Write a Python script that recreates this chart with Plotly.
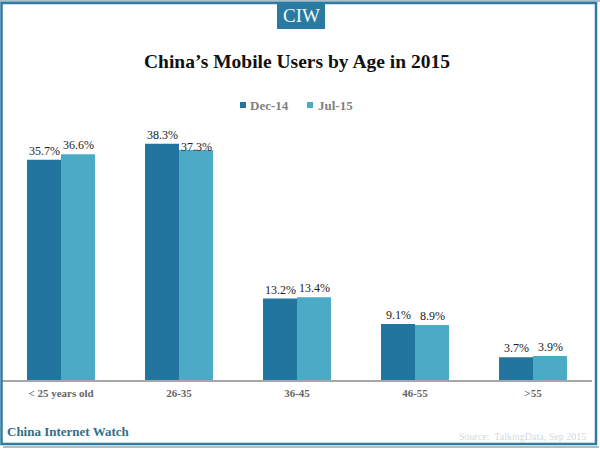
import plotly.graph_objects as go

categories = ["< 25 years old", "26-35", "36-45", "46-55", ">55"]
dec_14 = [35.7, 38.3, 13.2, 9.1, 3.7]
jul_15 = [36.6, 37.3, 13.4, 8.9, 3.9]
dec_labels = ["35.7%", "38.3%", "13.2%", "9.1%", "3.7%"]
jul_labels = ["36.6%", "37.3%", "13.4%", "8.9%", "3.9%"]
dec_color = "#22759E"
jul_color = "#4BABC6"

SERIF = "Liberation Serif"
W, H = 600, 450
L, R, T, B = 2, 592, 100, 380
def px(x): return (x - L) / (R - L)
def py(y): return (B - y) / (B - T)

fig = go.Figure()
for name, vals, col in [("Dec-14", dec_14, dec_color), ("Jul-15", jul_15, jul_color)]:
    fig.add_bar(name=name, x=categories, y=vals, marker_color=col, marker_line_width=0,
                showlegend=False, cliponaxis=False)

anns = []
for vals, labels, xs in [(dec_14, dec_labels, -17), (jul_15, jul_labels, 17)]:
    for c, v, t in zip(categories, vals, labels):
        anns.append(dict(text=t, x=c, y=v, xref="x", yref="y", xshift=xs,
                         yshift=-6 if t == "37.3%" else 0, showarrow=False, yanchor="bottom",
                         font=dict(family=SERIF, size=12, color="#222222")))

shapes = [
    dict(type="line", xref="paper", yref="paper", x0=px(0), x1=px(600), y0=py(1), y1=py(1),
         line=dict(color="#A9BFCC", width=2)),
    dict(type="rect", xref="paper", yref="paper", x0=px(1.5), x1=px(596), y0=py(3), y1=py(444),
         line=dict(color="#2F7CA0", width=2.5), fillcolor="rgba(0,0,0,0)"),
    dict(type="line", xref="paper", yref="paper", x0=px(3), x1=px(599), y0=py(447), y1=py(447),
         line=dict(color="#A9BFCC", width=2)),
    dict(type="rect", xref="paper", yref="paper", x0=px(277), x1=px(325), y0=py(2), y1=py(29),
         line=dict(width=0), fillcolor="#2A7BA1"),
    dict(type="rect", xref="paper", yref="paper", x0=px(240), x1=px(246), y0=py(102), y1=py(108),
         line=dict(width=0), fillcolor=dec_color),
    dict(type="rect", xref="paper", yref="paper", x0=px(307), x1=px(313), y0=py(102), y1=py(108),
         line=dict(width=0), fillcolor=jul_color),
]
page = [
    dict(text="CIW", x=px(301), y=py(16), font=dict(family=SERIF, size=19, color="#F2F8FA")),
    dict(text="<b>China’s Mobile Users by Age in 2015</b>", x=px(297), y=py(61),
         font=dict(family=SERIF, size=19.5, color="#111111")),
    dict(text="<b>Dec-14</b>", x=px(248), y=py(105), xanchor="left",
         font=dict(family=SERIF, size=13, color="#7F7F7F")),
    dict(text="<b>Jul-15</b>", x=px(316), y=py(105), xanchor="left",
         font=dict(family=SERIF, size=13, color="#7F7F7F")),
    dict(text="<b>China Internet Watch</b>", x=px(5), y=py(431), xanchor="left",
         font=dict(family=SERIF, size=13, color="#2F6F8C")),
    dict(text="Source:  TalkingData, Sep 2015", x=px(588), y=py(436), xanchor="right",
         font=dict(family=SERIF, size=10, color="#D3DAE2")),
]
for a in page:
    a.update(xref="paper", yref="paper", showarrow=False)
    a.setdefault("xanchor", "center")
    a["yanchor"] = "middle"
anns += page

fig.update_layout(
    width=W, height=H, barmode="group", bargap=0.424, bargroupgap=0,
    margin=dict(l=L, r=W - R, t=T, b=H - B, pad=0),
    paper_bgcolor="white", plot_bgcolor="white",
    font=dict(family=SERIF),
    shapes=shapes, annotations=anns, showlegend=False,
    xaxis=dict(showline=True, linecolor="#A6A6A6", linewidth=1.5, ticks="", showgrid=False,
               ticklabelstandoff=2,
               tickfont=dict(family=SERIF, size=11, color="#666666", weight="bold")),
    yaxis=dict(range=[0, 45.4], visible=False, showgrid=False),
)
fig.write_html("out.html", config={"displayModeBar": False},
               post_script="document.body.style.margin='0';")
